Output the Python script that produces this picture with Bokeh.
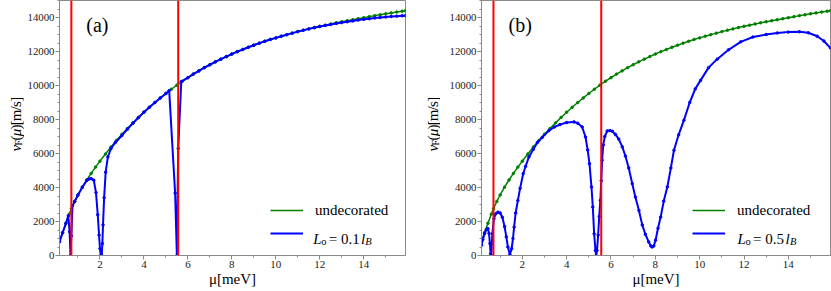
import math
from bokeh.plotting import figure
from bokeh.models import Label, Legend, LegendItem, Span, Range1d, SingleIntervalTicker
from bokeh.layouts import row
from bokeh.embed import file_html
from bokeh.resources import INLINE

# ---------------- data ----------------
mu_undec = [0.16, 0.3, 0.45, 0.6, 0.7, 0.85, 1.0, 1.2, 1.4, 1.6, 1.8, 2.0, 2.25, 2.5, 2.75,
            3.0, 3.25, 3.5, 3.75, 4.0, 4.25, 4.5, 4.75, 5.0, 5.25, 5.5, 5.75, 6.0, 6.25, 6.5,
            6.75, 7.0, 7.25, 7.5, 7.75, 8.0, 8.25, 8.5, 8.75, 9.0, 9.25, 9.5, 9.75, 10.0,
            10.25, 10.5, 10.75, 11.0, 11.25, 11.5, 11.75, 12.0, 12.25, 12.5, 12.75, 13.0,
            13.25, 13.5, 13.75, 14.0, 14.25, 14.5, 14.75, 15.0, 15.25, 15.5, 15.75, 15.9]
v_undec = [820, 1350, 1900, 2430, 2750, 3180, 3560, 4020, 4440, 4830, 5200, 5550, 5970, 6380, 6760,
           7130, 7470, 7800, 8120, 8430, 8720, 9000, 9270, 9530, 9780, 10020, 10250, 10460, 10670, 10860,
           11050, 11220, 11390, 11550, 11700, 11850, 11990, 12120, 12250, 12370, 12490, 12600, 12710, 12800,
           12900, 12990, 13080, 13170, 13250, 13330, 13410, 13480, 13550, 13620, 13690, 13750,
           13810, 13870, 13930, 13990, 14050, 14110, 14160, 14220, 14270, 14320, 14370, 14400]

mu_a = [0.16, 0.3, 0.45, 0.56, 0.62, 0.66, 0.70, 0.75, 0.85, 1.0, 1.2, 1.4, 1.5, 1.6, 1.72, 1.82,
        1.9, 1.96, 2.0, 2.04, 2.08, 2.11, 2.14, 2.19, 2.26, 2.36, 2.5, 2.7, 3.0, 3.25, 3.5, 3.75,
        4.0, 4.25, 4.5, 4.75, 5.0, 5.15, 5.42, 5.5, 5.56, 5.7, 6.0, 6.25, 6.5, 6.75, 7.0, 7.25,
        7.5, 7.75, 8.0, 8.25, 8.5, 8.75, 9.0, 9.25, 9.5, 9.75, 10.0, 10.25, 10.5, 10.75, 11.0,
        11.25, 11.5, 11.75, 12.0, 12.25, 12.5, 12.75, 13.0, 13.25, 13.5, 13.75, 14.0, 14.25,
        14.5, 14.75, 15.0, 15.25, 15.5, 15.75, 15.9]
v_a = [800, 1330, 1880, 2330, 1400, 0, 1150, 2920, 3180, 3560, 4020, 4420, 4500, 4520, 4430, 3700,
       2400, 1200, 400, 0, 0, 700, 1800, 3400, 4900, 5800, 6280, 6650, 7060, 7430, 7780, 8110,
       8430, 8720, 9000, 9270, 9530, 9700, 3670, 0, 6300, 10230, 10460, 10670, 10860, 11050, 11220, 11390,
       11550, 11700, 11850, 11990, 12120, 12250, 12370, 12490, 12600, 12710, 12800, 12900, 12990, 13080, 13170,
       13250, 13330, 13400, 13470, 13530, 13590, 13650, 13700, 13750, 13800, 13850, 13890, 13930,
       13970, 14000, 14030, 14060, 14080, 14100, 14110]

mu_b = [0.16, 0.22, 0.3, 0.38, 0.45, 0.5, 0.54, 0.57, 0.6, 0.65, 0.72, 0.8, 0.9, 1.0, 1.1, 1.2,
        1.28, 1.35, 1.44, 1.52, 1.58, 1.63, 1.7, 1.8, 1.9, 2.04, 2.15, 2.3, 2.5, 2.68, 2.9, 3.2,
        3.45, 3.7, 4.0, 4.33, 4.5, 4.7, 4.85, 4.95, 5.03, 5.12, 5.18, 5.24, 5.3, 5.33, 5.37, 5.42,
        5.47, 5.52, 5.56, 5.6, 5.65, 5.72, 5.83, 5.95, 6.06, 6.2, 6.35, 6.51, 6.65, 6.8, 6.96,
        7.1, 7.26, 7.41, 7.55, 7.7, 7.8, 7.86, 7.93, 8.01, 8.12, 8.24, 8.38, 8.54, 8.7, 8.84,
        9.05, 9.29, 9.55, 9.8, 10.04, 10.4, 10.79, 11.3, 11.85, 12.4, 13.0, 13.5, 14.0, 14.5,
        14.9, 15.3, 15.6, 15.9]
v_b = [600, 950, 1300, 1530, 1580, 1300, 700, 100, 0, 1280, 2160, 2450, 2550, 2500, 2250, 1700,
       1100, 500, 60, 400, 1000, 1670, 2500, 3240, 3950, 4810, 5250, 5800, 6250, 6650, 6950, 7350,
       7560, 7700, 7820, 7860, 7780, 7560, 6970, 6200, 5400, 4030, 2850, 1280, 300, 0, 300, 1200,
       2300, 3240, 4400, 5600, 6500, 7000, 7330, 7350, 7310, 7120, 6850, 6390, 5850, 5150, 4220,
       3440, 2650, 1800, 1250, 800, 560, 500, 560, 900, 1600, 2260, 3200, 4030, 5150, 6190,
       7100, 7960, 9000, 9800, 10300, 11050, 11550, 12100, 12570, 12850, 13000, 13090, 13140, 13160,
       13100, 12900, 12620, 12200]

red_lines = [0.7, 5.56]
x_ticks_interval = 2
y_ticks_interval = 2000
panel_tags = ["(a)", "(b)"]
lo_values = ["0.1", "0.5"]

# ---------------- layout (page origin is the top-left corner) ----------------
X0, X1 = 0.16, 15.9
Y0, Y1 = 0, 15000
FIG_H = 291
B_TOP, B_BOT = 0, 36
FRAME_H = FIG_H - B_TOP - B_BOT
FRAME_BOTTOM = B_TOP + FRAME_H
SERIF = "'Liberation Serif', 'DejaVu Serif', serif"
GRAY = "#8a8a8a"


def label_strip(width, baseline_x):
    """Narrow figure that carries the y-axis label, typeset glyph by glyph: v_F(mu)[m/s]."""
    s = figure(width=width, height=FIG_H, output_backend="svg", toolbar_location=None,
               x_range=Range1d(0, width), y_range=Range1d(0, FIG_H),
               x_axis_type=None, y_axis_type=None, min_border=0)
    s.grid.visible = False
    s.outline_line_color = None
    py = 172
    ypieces = [("v", "italic", 15, 0, 6.7), ("F", "normal", 10.5, 2.5, 5.8), ("(", "normal", 15, 0, 5.0),
               ("μ", "italic", 15, 0, 7.6), (")", "normal", 15, 0, 5.0), ("[", "normal", 15, 0, 5.0),
               ("m", "normal", 15, 0, 11.7), ("/", "normal", 15, 0, 4.2), ("s", "normal", 15, 0, 5.8),
               ("]", "normal", 15, 0, 5.0)]
    for txt, style, size, dx, adv in ypieces:
        s.add_layout(Label(x=baseline_x + dx, y=FIG_H - (py - adv / 2), text=txt, angle=math.pi / 2,
                           text_align="center", text_baseline="alphabetic", text_font=SERIF,
                           text_font_style=style, text_font_size=f"{size}px", text_color="black"))
        py -= adv
    return s


def make_panel(page_left, b_left, frame_w, b_right, mu_blue, v_blue, tag, lo):
    frame_left = page_left + b_left
    kx = frame_w / (X1 - X0)
    ky = FRAME_H / (Y1 - Y0)

    def d(px, py):
        return X0 + (px - frame_left) / kx, Y0 + (FRAME_BOTTOM - py) / ky

    p = figure(width=b_left + frame_w + b_right, height=FIG_H, output_backend="svg",
               toolbar_location=None, x_range=Range1d(X0, X1), y_range=Range1d(Y0, Y1),
               min_border_left=b_left, min_border_right=b_right,
               min_border_top=B_TOP, min_border_bottom=B_BOT)
    p.grid.visible = False
    p.outline_line_color = GRAY
    p.outline_line_width = 1
    p.background_fill_color = "white"

    p.xaxis.ticker = SingleIntervalTicker(interval=x_ticks_interval, num_minor_ticks=2)
    p.yaxis.ticker = SingleIntervalTicker(interval=y_ticks_interval, num_minor_ticks=4)
    for ax in (p.xaxis[0], p.yaxis[0]):
        ax.axis_line_color = GRAY
        ax.major_tick_line_color = GRAY
        ax.minor_tick_line_color = GRAY
        ax.major_tick_in = 0
        ax.major_tick_out = 4
        ax.minor_tick_in = 0
        ax.minor_tick_out = 2
        ax.major_label_text_font = SERIF
        ax.major_label_text_color = "#222222"
    p.xaxis.major_label_text_font_size = "11px"
    p.yaxis.major_label_text_font_size = "10.8px"
    p.xaxis.major_label_standoff = 1
    p.yaxis.major_label_standoff = 1
    p.xaxis.axis_label = "μ[meV]"
    p.xaxis.axis_label_text_font = SERIF
    p.xaxis.axis_label_text_font_style = "normal"
    p.xaxis.axis_label_text_font_size = "15px"
    p.xaxis.axis_label_text_color = "black"
    p.xaxis.axis_label_standoff = 0

    g_line = p.line(mu_undec, v_undec, line_color="#008000", line_width=1.5)
    p.scatter(mu_undec, v_undec, size=2.5, color="#008000")
    b_line = p.line(mu_blue, v_blue, line_color="#0000ff", line_width=2)
    p.scatter(mu_blue, v_blue, size=2.5, color="#0000ff")

    for loc in red_lines:
        p.add_layout(Span(location=loc, dimension="height", line_color="#ff0000", line_width=2))

    # legend
    legend = Legend(items=[LegendItem(label="undecorated", renderers=[g_line]),
                           LegendItem(label=" ", renderers=[b_line])],
                    location=(211, 12), border_line_color=None, background_fill_alpha=0,
                    glyph_width=33, glyph_height=20, label_height=20, label_standoff=12,
                    spacing=3, padding=0, margin=0, label_text_font=SERIF,
                    label_text_font_size="15px", label_text_color="black")
    p.add_layout(legend)

    # second legend label, typeset in pieces: L_o = 0.1 l_B
    tx = frame_left + 211 + 33 + 12
    base = FRAME_BOTTOM - 12 - 10 + 5
    pieces = [("L", "italic", 15, 0, 0), ("o", "normal", 10.5, 8, 3), ("= " + lo, "normal", 15, 15.5, 0),
              ("l", "italic", 15, 48, 0), ("B", "italic", 10.5, 52.5, 3)]
    for txt, style, size, dx, dy in pieces:
        x, y = d(tx + dx, base + dy)
        p.add_layout(Label(x=x, y=y, text=txt, text_align="left", text_baseline="alphabetic",
                           text_font=SERIF, text_font_style=style, text_font_size=f"{size}px",
                           text_color="black"))

    # panel tag
    x, y = d(frame_left + 27, 24)
    p.add_layout(Label(x=x, y=y, text=tag, text_align="left", text_baseline="middle",
                       text_font=SERIF, text_font_size="20px", text_color="black"))
    return p


# page: strip a 0..24, panel a 24..410 (frame 56..405), strip b 410..440, panel b 440..831 (frame 481..830)
lab_a = label_strip(24, 15)
left = make_panel(24, 32, 349, 5, mu_a, v_a, panel_tags[0], lo_values[0])
lab_b = label_strip(30, 22)
right = make_panel(440, 41, 349, 1, mu_b, v_b, panel_tags[1], lo_values[1])

layout = row(lab_a, left, lab_b, right)
open("out.html", "w").write(file_html(layout, INLINE))
